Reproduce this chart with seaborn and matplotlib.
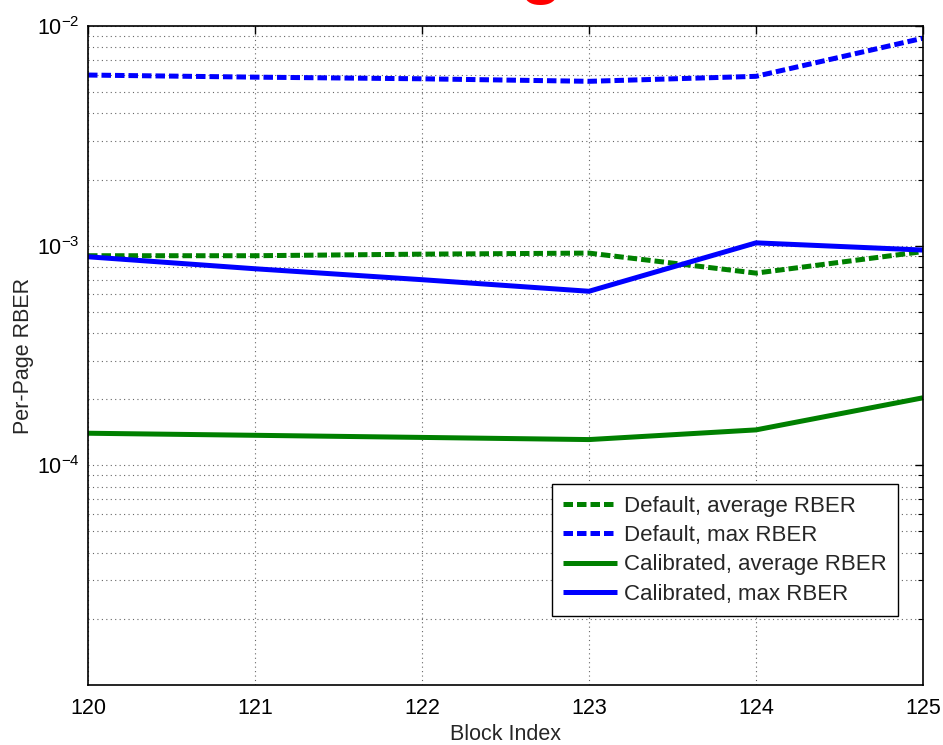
import numpy as np
import pandas as pd
import matplotlib
matplotlib.use("Agg")
import matplotlib.pyplot as plt
import matplotlib.ticker as mticker
import seaborn as sns

# ---- data ----
block_index = [120, 121, 122, 123, 124, 125]
default_avg = [9.0e-4, 9.0e-4, 9.15e-4, 9.25e-4, 7.5e-4, 9.4e-4]
default_max = [5.98e-3, 5.85e-3, 5.75e-3, 5.6e-3, 5.9e-3, 8.8e-3]
calib_avg = [1.40e-4, 1.37e-4, 1.34e-4, 1.31e-4, 1.45e-4, 2.03e-4]
calib_max = [8.9e-4, 7.85e-4, 7.0e-4, 6.2e-4, 1.03e-3, 9.55e-4]
series_names = ["Default, average RBER", "Default, max RBER",
                "Calibrated, average RBER", "Calibrated, max RBER"]
x_ticks = [120, 121, 122, 123, 124, 125]
y_major = [1e-4, 1e-3, 1e-2]

sns.set_theme(style="white")
plt.rcParams["font.family"] = ["Liberation Sans", "DejaVu Sans"]
plt.rcParams["mathtext.fontset"] = "custom"
plt.rcParams["mathtext.rm"] = "Liberation Sans"
plt.rcParams["mathtext.it"] = "Liberation Sans"
plt.rcParams["mathtext.default"] = "regular"

fig = plt.figure(figsize=(9.43, 7.45), dpi=100)
ax = fig.add_axes([88 / 943, 1 - 685 / 745, (923 - 88) / 943, (685 - 26) / 745])

GREEN = "#008000"
BLUE = "#0000ff"
dash = (0, (1.9, 0.8))
lw = 3.6

specs = [
    (default_avg, GREEN, dash),
    (default_max, BLUE, dash),
    (calib_avg, GREEN, "-"),
    (calib_max, BLUE, "-"),
]
for (vals, col, ls), name in zip(specs, series_names):
    d = pd.DataFrame({"x": block_index, "y": vals})
    sns.lineplot(data=d, x="x", y="y", ax=ax, color=col, linestyle=ls,
                 linewidth=lw, label=name, solid_capstyle="butt",
                 dash_capstyle="butt")

ax.set_yscale("log")
ax.set_xlim(120, 125)
ax.set_ylim(1e-5, 1e-2)

ax.set_xticks(x_ticks)
ax.set_xticklabels([str(t) for t in x_ticks])
ax.yaxis.set_major_locator(mticker.FixedLocator(y_major))
ax.yaxis.set_major_formatter(mticker.FuncFormatter(
    lambda v, p: r"$10^{%d}$" % int(round(np.log10(v)))))
ax.yaxis.set_minor_locator(mticker.LogLocator(base=10, subs=np.arange(2, 10), numticks=20))
ax.yaxis.set_minor_formatter(mticker.NullFormatter())

ax.tick_params(axis="both", which="both", direction="in", top=True, right=True,
               labelsize=15.5, colors="black")
ax.tick_params(axis="x", which="major", pad=9)
ax.tick_params(axis="y", which="major", pad=6)
ax.tick_params(axis="both", which="major", length=6, width=1)
ax.tick_params(axis="y", which="minor", length=3.5, width=0.8)

grid_kw = dict(color="#666666", linestyle=(0, (1, 3)), linewidth=0.8)
ax.grid(True, which="major", axis="both", **grid_kw)
ax.grid(True, which="minor", axis="y", **grid_kw)

for s in ax.spines.values():
    s.set_visible(True)
    s.set_color("black")
    s.set_linewidth(1.2)

ax.set_xlabel("Block Index", fontsize=15.5, labelpad=4)
ax.set_ylabel("Per-Page RBER", fontsize=15.5, labelpad=2)

leg = ax.legend(loc="lower right", bbox_to_anchor=(0.970, 0.1047),
                fontsize=16, frameon=True, fancybox=False, framealpha=1,
                edgecolor="black", handlelength=2.45, handletextpad=0.3,
                labelspacing=0.38, borderpad=0.5, borderaxespad=0)
leg.get_frame().set_linewidth(1.0)

fig.text(540 / 943, 1 - 5 / 745, "g", color="red", fontsize=50,
         fontweight="bold", ha="center", va="bottom")

fig.savefig("out.png", dpi=100, facecolor="white")
